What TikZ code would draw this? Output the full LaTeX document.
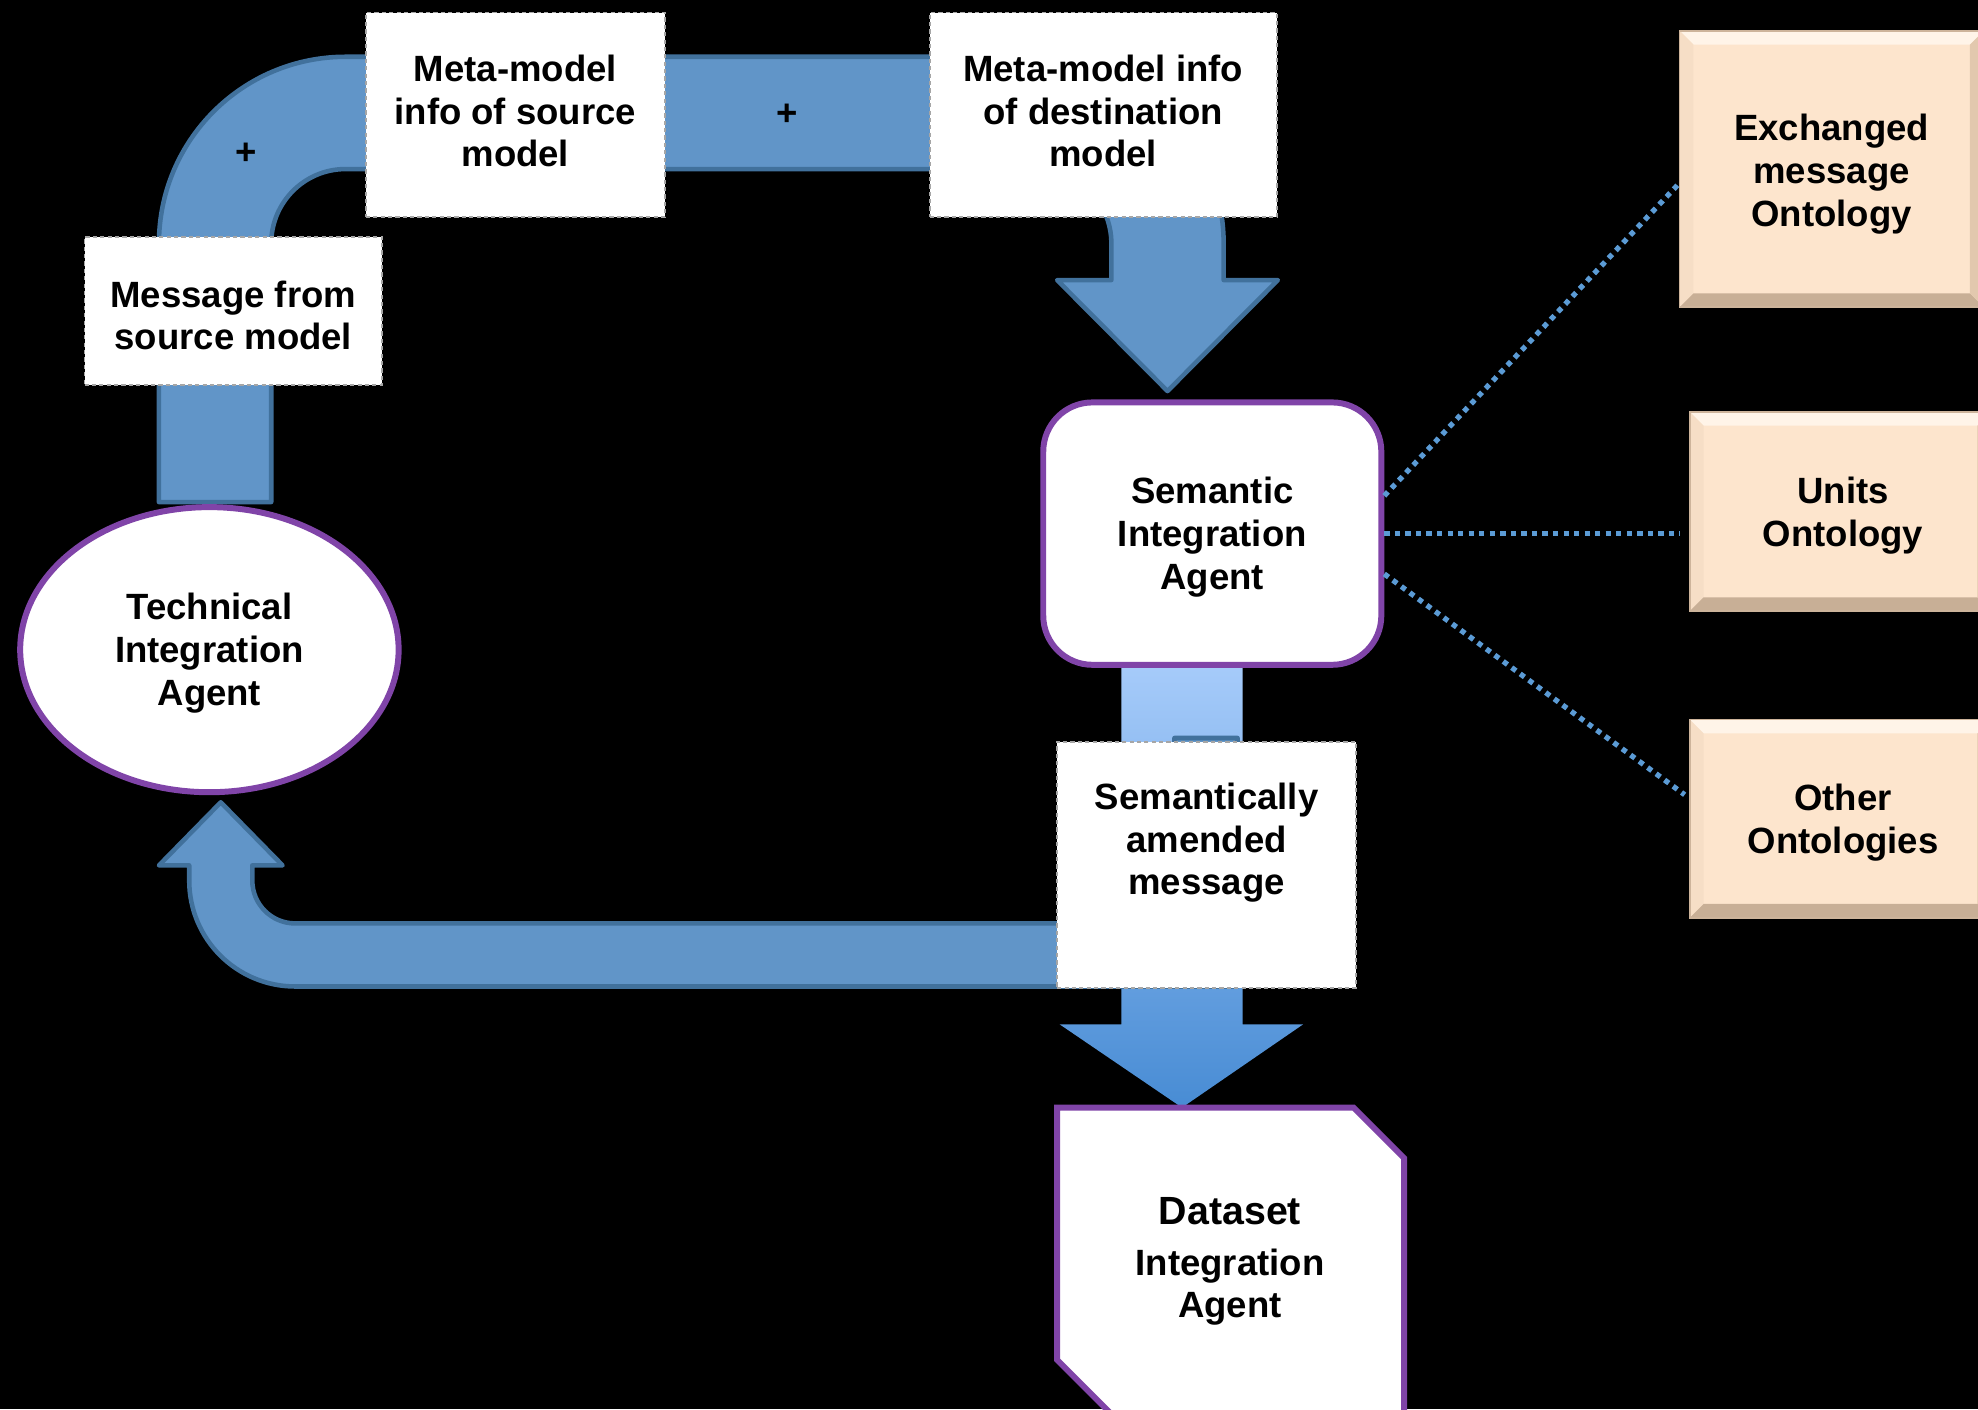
\documentclass[tikz,border=0pt]{standalone}
\usepackage{fontspec}
\setmainfont{Liberation Sans}
\usetikzlibrary{shapes.geometric,calc}

\definecolor{bandfill}{RGB}{97,149,200}
\definecolor{bandline}{RGB}{65,113,156}
\definecolor{agent}{RGB}{128,68,168}
\definecolor{dots}{RGB}{91,155,213}
\definecolor{peach}{RGB}{253,229,205}
\definecolor{peachline}{RGB}{205,180,155}
\definecolor{bvtop}{RGB}{255,244,232}
\definecolor{bvleft}{RGB}{246,222,198}
\definecolor{bvbottom}{RGB}{200,175,150}
\definecolor{bvright}{RGB}{226,200,174}
\definecolor{flowtop}{RGB}{166,203,250}
\definecolor{flowbot}{RGB}{72,140,212}

% one drawing unit
\def\pxu{0.012615cm}

% bevelled edges of an ontology box
\newcommand\bevelize[1]{%
  \fill[bvtop] (#1.north west) -- (#1.north east) -- ([shift={(-11,11)}]#1.north east) -- ([shift={(11,11)}]#1.north west) -- cycle;
  \fill[bvleft] (#1.north west) -- ([shift={(11,11)}]#1.north west) -- ([shift={(11,-11)}]#1.south west) -- (#1.south west) -- cycle;
  \fill[bvbottom] (#1.south west) -- ([shift={(11,-11)}]#1.south west) -- ([shift={(-11,-11)}]#1.south east) -- (#1.south east) -- cycle;
  \fill[bvright] (#1.north east) -- (#1.south east) -- ([shift={(-11,-11)}]#1.south east) -- ([shift={(-11,11)}]#1.north east) -- cycle;
  \draw[peachline, line width=0.5pt] (#1.north west) rectangle (#1.south east);
}

\begin{document}
\begin{tikzpicture}[x=0.012615cm, y=-0.012615cm,
  txt/.style={font=\fontsize{10.4}{12.2}\selectfont\bfseries, align=center, inner sep=0pt, text=black},
  tagbox/.style={draw=gray!70, fill=white, line width=0.5pt, dash pattern=on 1.2pt off 0.9pt, inner sep=0pt},
  band/.style={fill=bandfill, draw=bandline, line width=1.3pt, line join=round},
  agentline/.style={draw=agent, line width=1.7pt, fill=white, inner sep=0pt},
  onto/.style={fill=peach, draw=none, inner sep=0pt},
  dotline/.style={draw=dots, line width=1.5pt, dash pattern=on 1.5pt off 1.5pt}
]
\fill[black] (0,0) rectangle (1568,1117);
\useasboundingbox (0,0) rectangle (1568,1117);
\clip (0,0) rectangle (1568,1117);

% flow from the technical agent over the meta-model infos to the semantic agent
\draw[band] (126,398) -- (126,193) arc[start angle=180,end angle=270,radius=148]
  -- (822,45) arc[start angle=270,end angle=360,radius=148]
  -- (970,222) -- (1013,222) -- (925.5,310) -- (838,222) -- (881,222)
  -- (881,193) arc[start angle=0,end angle=-90,radius=59]
  -- (274,134) arc[start angle=270,end angle=180,radius=59]
  -- (215,398) -- cycle;

% flow from the semantic agent down to the dataset agent
\shade[top color=flowtop, bottom color=flowbot]
  (889,527) -- (985,527) -- (985,812) -- (1033,812) -- (937,878) -- (840,812) -- (889,812) -- cycle;

% flow returning to the technical agent
\draw[band] (931,585) -- (981,585) -- (981,782) -- (234,782)
  arc[start angle=90,end angle=180,radius=84]
  -- (150,686) -- (126,686) -- (175,636) -- (224,686) -- (200,686) -- (200,698)
  arc[start angle=180,end angle=90,radius=34]
  -- (931,732) -- cycle;

% agents
\node[agentline, ellipse, minimum width=300*\pxu, minimum height=226*\pxu] (tia) at (166,515) {};
\node[txt] (tiat) at (166,518) {Technical\\Integration\\Agent};
\node[agentline, rounded corners=14pt, minimum width=268*\pxu, minimum height=208*\pxu] (sem) at (961,423) {};
\node[txt] (semt) at (961,426) {Semantic\\Integration\\Agent};
\draw[agentline] (838,878) -- (1073,878) -- (1113,918) -- (1113,1130) -- (890,1130) -- (838,1078) -- cycle;
\node[txt] (dia) at (975,1000) {{\fontsize{11.2}{12.2}\selectfont Dataset}\\[2.2pt]Integration\\Agent};

% message labels
\node[tagbox, minimum width=236*\pxu, minimum height=117*\pxu] (msgbox) at (185,246.5) {};
\node[txt] (msg) at (185,250) {Message from\\source model};
\node[tagbox, minimum width=237*\pxu, minimum height=162*\pxu] (mmsbox) at (408.5,91) {};
\node[txt] (mms) at (408.5,88) {Meta-model\\info of source\\model};
\node[tagbox, minimum width=275*\pxu, minimum height=162*\pxu] (mmdbox) at (874.5,91) {};
\node[txt] (mmd) at (874.5,88) {Meta-model info\\of destination\\model};
\node[tagbox, minimum width=237*\pxu, minimum height=195*\pxu] (sambox) at (956.5,685.5) {};
\node[txt] (sam) at (956.5,668) {Semantically\\amended\\message};

\node[txt] (plusa) at (195,122) {+};
\node[txt] (plusb) at (624,91) {+};

% ontologies
\node[onto, minimum width=240*\pxu, minimum height=218*\pxu] (exo) at (1452,134) {};
\bevelize{exo}
\node[txt] (exot) at (1452,138) {Exchanged\\message\\Ontology};
\node[onto, minimum width=238*\pxu, minimum height=157*\pxu] (uni) at (1459,405.5) {};
\bevelize{uni}
\node[txt] (unit) at (1461,409) {Units\\Ontology};
\node[onto, minimum width=238*\pxu, minimum height=156*\pxu] (oth) at (1459,649) {};
\bevelize{oth}
\node[txt] (otht) at (1461,652) {Other\\Ontologies};

% links between the semantic agent and the ontologies
\draw[dotline] ([shift={(0,-30)}]sem.east) -- ([shift={(0,11)}]exo.west);
\draw[dotline, shorten >=2.9pt] (sem.east) -- (sem.east -| uni.west);
\draw[dotline] ([shift={(0,32)}]sem.east) -- ([shift={(-4,-19)}]oth.west);
\end{tikzpicture}
\end{document}
